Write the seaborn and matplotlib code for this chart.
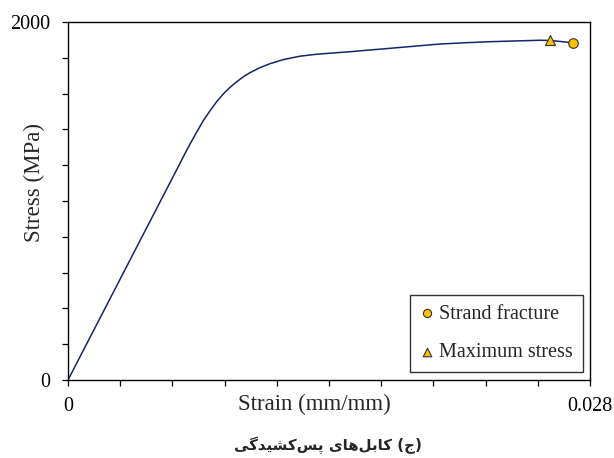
import matplotlib
matplotlib.use("Agg")
import matplotlib.pyplot as plt
import seaborn as sns
import pandas as pd
from matplotlib.ticker import MultipleLocator, FixedLocator

# ---- data ----
strain = [0.0, 0.001717, 0.005831, 0.006185, 0.006544, 0.006903, 0.007258,
          0.007617, 0.007976, 0.008330, 0.008690, 0.009049, 0.009403,
          0.009763, 0.010299, 0.010836, 0.011549, 0.012445, 0.013341,
          0.014231, 0.015127, 0.017272, 0.018613, 0.019954, 0.021295,
          0.022637, 0.023977, 0.025319, 0.025855, 0.027073]
stress = [0, 346, 1175, 1247, 1318, 1385, 1449, 1504, 1555, 1598, 1635,
          1666, 1694, 1717, 1745, 1767, 1790, 1809, 1820, 1827, 1834,
          1853, 1865, 1877, 1884, 1890, 1894, 1898, 1897, 1884]

fracture_strain = [0.027073]
fracture_stress = [1884]
maxstress_strain = [0.025855]
maxstress_stress = [1897]

x_labels = {0.0: "0", 0.028: "0.028"}
y_labels = {0: "0", 2000: "2000"}
xlabel = "Strain (mm/mm)"
ylabel = "Stress (MPa)"
legend_labels = ["Strand fracture", "Maximum stress"]

# Caption "(ج) کابل‌های پس‌کشیدگی" written with Arabic presentation forms,
# arranged in visual (right-to-left) order
cap_paren = "(\uFE9D)"
word1 = "\uFB90\uFE8E\uFE91\uFEDE\uFEEB\uFE8E\uFBFC"          # کابل‌های
word2 = "\uFB58\uFEB2\uFB90\uFEB8\uFBFF\uFEAA\uFB94\uFBFD"    # پس‌کشیدگی
caption = word2[::-1] + " " + word1[::-1] + " " + cap_paren

sns.set_style("ticks")
plt.rcParams["font.family"] = ["Liberation Serif", "DejaVu Serif"]

fig = plt.figure(figsize=(6.14, 4.58), dpi=100)
ax = fig.add_axes([68/614, 78/458, 522/614, 358/458])

df = pd.DataFrame({"strain": strain, "stress": stress})
sns.lineplot(data=df, x="strain", y="stress", sort=False, ax=ax,
             color="#13266b", lw=1.1, zorder=2)

sns.scatterplot(x=fracture_strain, y=fracture_stress, ax=ax, marker="o",
                s=48, color="#ffc000", edgecolor="#333333", linewidth=0.8,
                zorder=4, label=legend_labels[0])
sns.scatterplot(x=maxstress_strain, y=maxstress_stress, ax=ax, marker="^",
                s=52, color="#ffc000", edgecolor="#333333", linewidth=0.8,
                zorder=4, label=legend_labels[1])

ax.set_xlim(0, 0.028)
ax.set_ylim(0, 2000)
ax.xaxis.set_major_locator(FixedLocator([i * 0.0028 for i in range(11)]))
ax.yaxis.set_major_locator(MultipleLocator(200))
ax.set_xticklabels([x_labels.get(round(v, 4), "") for v in ax.get_xticks()])
ax.set_yticklabels([y_labels.get(int(round(v)), "") for v in ax.get_yticks()])
ax.tick_params(axis="both", direction="out", length=4.5, width=0.9,
               colors="black", labelsize=14.5, pad=8)
for s in ax.spines.values():
    s.set_color("black")
    s.set_linewidth(1.0)

ax.set_xlabel(xlabel, fontsize=16.5)
ax.set_ylabel(ylabel, fontsize=16.5)
ax.xaxis.set_label_coords((314 - 68) / 522, -0.04)
ax.xaxis.label.set_va("top")
ax.yaxis.label.set_va("center")
ax.yaxis.set_label_coords((34 - 68) / 522, (380 - 183) / 358)

leg = ax.legend(loc="lower right", bbox_to_anchor=(0.9866, 0.0223),
                borderaxespad=0, frameon=True, fancybox=False,
                fontsize=14.5, labelspacing=0.95, handletextpad=0.25,
                borderpad=0.5, handlelength=0.7, markerscale=0.85)
leg.get_frame().set_edgecolor("black")
leg.get_frame().set_linewidth(1.0)

fig.text(328 / 614, 1 - 445 / 458, caption, ha="center", va="center",
         fontsize=10.8, fontweight="bold", family=["DejaVu Sans"])

fig.savefig("out.png", dpi=100, facecolor="white")
